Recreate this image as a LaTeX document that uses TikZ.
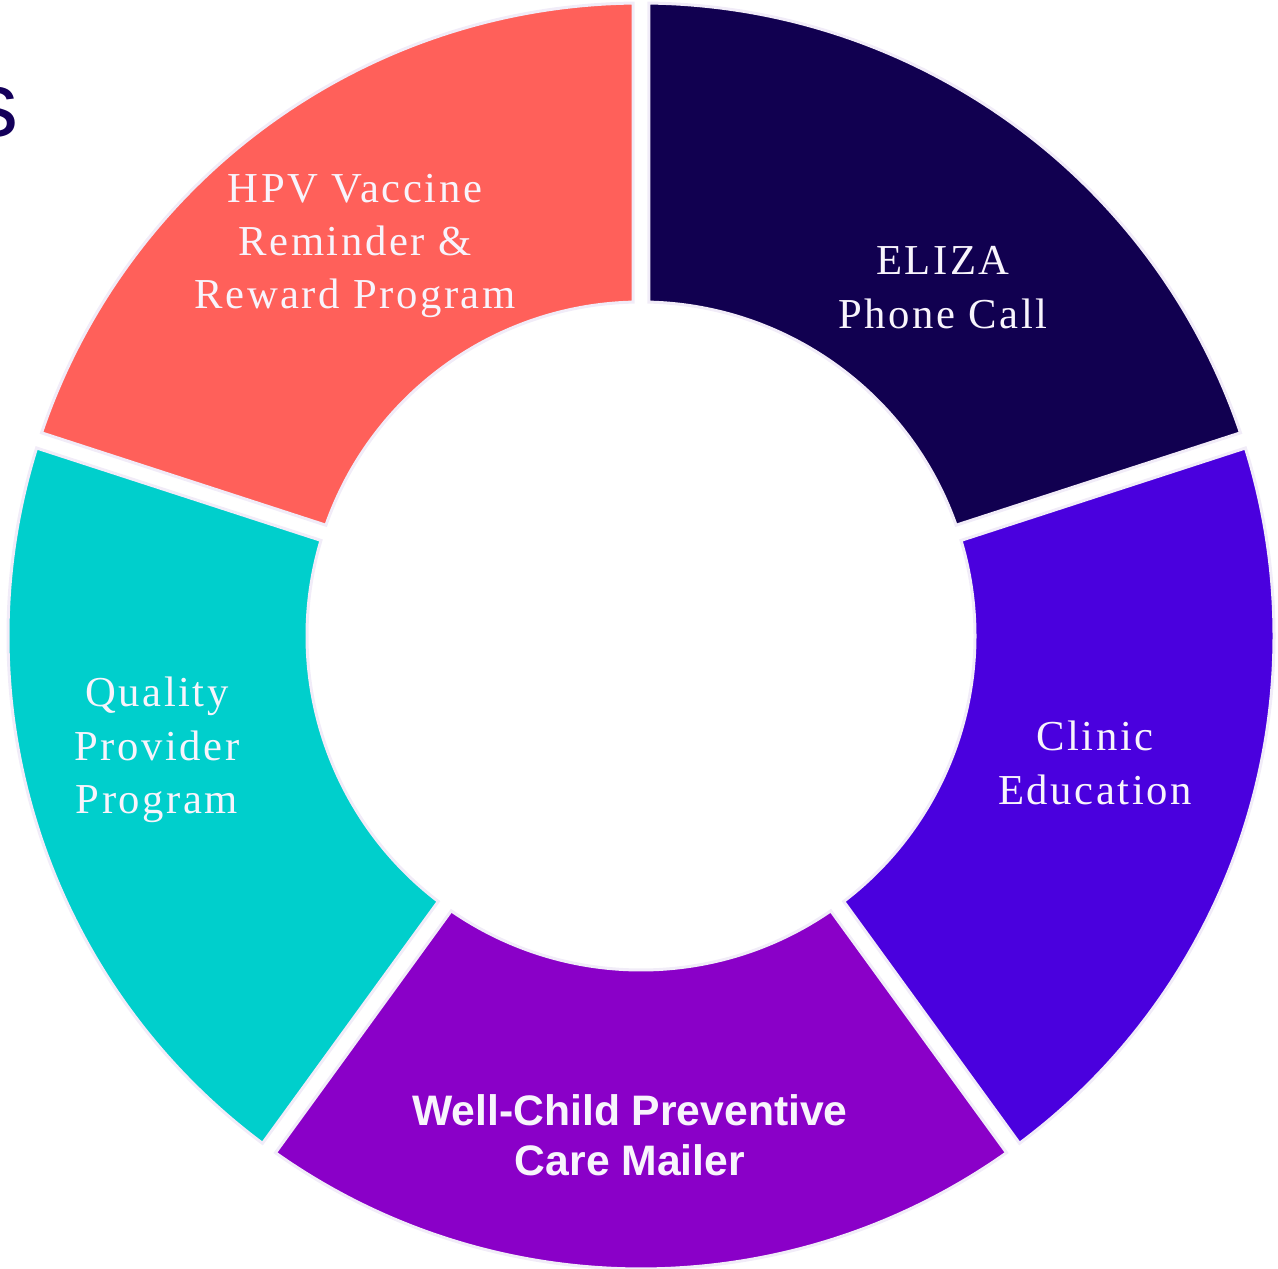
\documentclass[tikz,border=0pt]{standalone}
\usepackage{fontspec}
\setmainfont{Liberation Serif}
\setsansfont{Liberation Sans}
\newfontfamily\spacedserif[LetterSpace=6]{Liberation Serif}
\usepackage{tikz}

\definecolor{elizanavy}{HTML}{110050}
\definecolor{hpvcoral}{HTML}{FF605A}
\definecolor{qualityteal}{HTML}{00CFCC}
\definecolor{mailerpurple}{HTML}{8A00C8}
\definecolor{clinicviolet}{HTML}{4A00DE}
\definecolor{ringedge}{HTML}{F1ECF8}
\definecolor{labelwhite}{HTML}{F8F4FC}
\definecolor{titlenavy}{HTML}{14005A}

\begin{document}
\begin{tikzpicture}[x=0.75pt,y=0.75pt,
  seg/.style={draw=ringedge,line width=2.25pt},
  lbl/.style={text=labelwhite,font=\spacedserif\fontsize{32}{40}\selectfont,align=center,inner sep=0.75pt},
  boldlbl/.style={text=labelwhite,font=\sffamily\bfseries\fontsize{32}{37.5}\selectfont,align=center,inner sep=0.75pt}]
\useasboundingbox (0,0) rectangle (1278,1268);

%Shape: Ring segments
\begin{scope}[shift={(641,632)}]
\foreach \a/\col in {18/elizanavy,90/hpvcoral,162/qualityteal,234/mailerpurple,306/clinicviolet}{
  \pgfmathsetmacro{\ao}{asin(8/633)}
  \pgfmathsetmacro{\ai}{asin(8/334)}
  \filldraw[seg,fill=\col] ({\a+\ao}:633) arc[start angle={\a+\ao},end angle={\a+72-\ao},radius=633]
    -- ({\a+72-\ai}:334) arc[start angle={\a+72-\ai},end angle={\a+\ai},radius=334] -- cycle;
}
\end{scope}

% Text Node
\draw (19,1131) node (title) [anchor=base east,inner sep=0pt,text=titlenavy,font=\sffamily\fontsize{69}{80}\selectfont] {s};
% Text Node
\draw (943,980.5) node (eliza) [lbl] {ELIZA\\Phone Call};
% Text Node
\draw (355,1022) node (hpv) [lbl] {HPV Vaccine\\Reminder \&\\Reward Program};
% Text Node
\draw (157,518) node (quality) [lbl] {Quality\\Provider\\Program};
% Text Node
\draw (630,133) node (mailer) [boldlbl] {Well-Child Preventive\\Care Mailer};
% Text Node
\draw (1095,505) node (clinic) [lbl] {Clinic\\Education};

\end{tikzpicture}
\end{document}
